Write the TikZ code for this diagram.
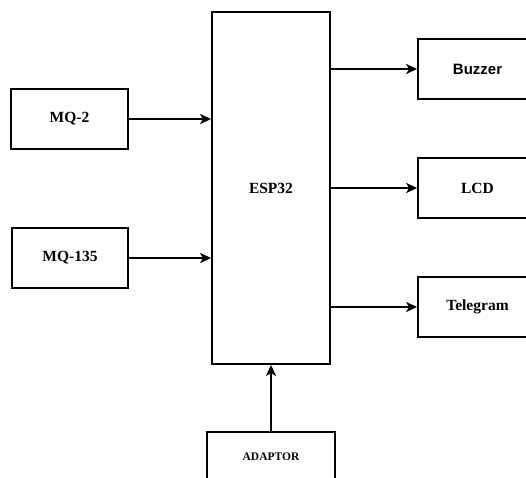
\documentclass[tikz,border=0pt]{standalone}
\usepackage{fontspec}
\setmainfont{Liberation Serif}
\newfontfamily\arialfont{Liberation Sans}
\usetikzlibrary{arrows.meta}

\tikzset{
	blockbox/.style={draw, line width=1.8pt, fill=white, font=\bfseries\fontsize{15.5}{17}\selectfont, inner sep=0pt},
	wire/.style={line width=1.9pt, -{Stealth[length=11pt,width=10pt,inset=3pt]}}
}

\begin{document}
\begin{tikzpicture}[x=1pt, y=-1pt]
	\clip (0,0) rectangle (526,477);
	\fill[white] (0,0) rectangle (526,477);
	% controller
	\node[blockbox, minimum width=118pt, minimum height=352pt] (esp) at (271,188) {ESP32};
	% sensors
	\node[blockbox, minimum width=117pt, minimum height=60pt] (mqtwo) at (69.5,119) {MQ-2};
	\node[blockbox, minimum width=116pt, minimum height=60pt] (mqonethreefive) at (70,258) {MQ-135};
	% outputs
	\node[blockbox, minimum width=119pt, minimum height=60pt, font=\arialfont\bfseries\fontsize{15}{17}\selectfont] (buzzer) at (477.5,69) {Buzzer};
	\node[blockbox, minimum width=119pt, minimum height=60pt] (lcd) at (477.5,188) {LCD};
	\node[blockbox, minimum width=119pt, minimum height=60pt] (telegram) at (477.5,307) {Telegram};
	% power
	\node[blockbox, minimum width=128pt, minimum height=50pt, font=\bfseries\fontsize{11.5}{13}\selectfont] (adaptor) at (271,457) {ADAPTOR};
	% connections
	\draw[wire] (mqtwo.east) -- (mqtwo.east -| esp.west);
	\draw[wire] (mqonethreefive.east) -- (mqonethreefive.east -| esp.west);
	\draw[wire] (esp.east |- buzzer.west) -- (buzzer.west);
	\draw[wire] (esp.east |- lcd.west) -- (lcd.west);
	\draw[wire] (esp.east |- telegram.west) -- (telegram.west);
	\draw[wire] (adaptor.north) -- (esp.south);
\end{tikzpicture}
\end{document}
